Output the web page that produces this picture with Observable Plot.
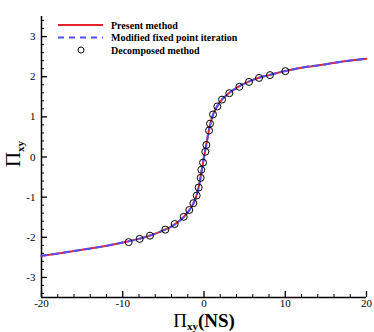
<!DOCTYPE html>
<html><head><meta charset="utf-8">
<script src="https://cdn.jsdelivr.net/npm/d3@7"></script>
<script src="https://cdn.jsdelivr.net/npm/@observablehq/plot@0.6"></script>
<style>body{margin:0;background:#fff}</style>
</head><body><div id="chart"></div>
<script>
// Present method / modified fixed point iteration curve
const curveX = [-20, -17.5, -15, -12.5, -10, -8, -6, -4, -3, -2, -1.5, -1, -0.6, -0.3, 0, 0.3, 0.6, 1, 1.5, 2, 3, 4, 6, 8, 10, 12.5, 15, 17.5, 20];
const curveY = [-2.46, -2.39, -2.31, -2.23, -2.13, -2.04, -1.91, -1.73, -1.59, -1.38, -1.23, -1.01, -0.70, -0.35, 0, 0.33, 0.66, 0.99, 1.22, 1.38, 1.58, 1.72, 1.92, 2.04, 2.14, 2.24, 2.31, 2.39, 2.45];
// Decomposed method points
const pointX = [-9.27, -7.92, -6.65, -4.76, -3.61, -2.50, -1.81, -1.31, -0.90, -0.66, -0.41, -0.33, -0.12, 0.16, 0.29, 0.62, 0.74, 1.11, 1.64, 2.22, 3.12, 4.35, 5.54, 6.77, 8.12, 10.01];
const pointY = [-2.12, -2.04, -1.96, -1.81, -1.67, -1.49, -1.32, -1.15, -0.96, -0.76, -0.52, -0.32, -0.14, 0.13, 0.30, 0.66, 0.83, 1.06, 1.26, 1.43, 1.59, 1.75, 1.87, 1.97, 2.04, 2.14];
const xTicks = [-20, -10, 0, 10, 20];
const yTicks = [-3, -2, -1, 0, 1, 2, 3];
const xMinorTicks = [-18, -16, -14, -12, -8, -6, -4, -2, 2, 4, 6, 8, 12, 14, 16, 18];
const yMinorTicks = [-3.4, -3.2, -2.8, -2.6, -2.4, -2.2, -1.8, -1.6, -1.4, -1.2, -0.8, -0.6, -0.4, -0.2, 0.2, 0.4, 0.6, 0.8, 1.2, 1.4, 1.6, 1.8, 2.2, 2.4, 2.6, 2.8, 3.2, 3.4];
const legendLabels = ["Present method", "Modified fixed point iteration", "Decomposed method"];

const RED = "#e3262b", BLUE = "#4f4fff";
const curve = curveX.map((x, i) => ({x, y: curveY[i]}));
const points = pointX.map((x, i) => ({x, y: pointY[i]}));

const W = 374, H = 332, mL = 41, mR = 8, mT = 16, mB = 35;
const pw = W - mL - mR, ph = H - mT - mB;

const chart = Plot.plot({
  width: W, height: H,
  marginLeft: mL, marginRight: mR, marginTop: mT, marginBottom: mB,
  x: {domain: [-20, 20], label: null},
  y: {domain: [-3.5, 3.5], label: null},
  style: {fontFamily: "Liberation Serif", fontSize: "11px", color: "#000", background: "#fff"},
  marks: [
    Plot.axisX(xTicks, {tickSize: 0, tickPadding: 2, tickFormat: d => String(d), fontSize: 11}),
    Plot.axisY(yTicks, {tickSize: 0, tickPadding: 6, tickFormat: d => String(d), fontSize: 11}),
    Plot.tickX(xTicks, {x: d => d, insetTop: ph - 6, stroke: "#000", strokeWidth: 1.3}),
    Plot.tickX(xMinorTicks, {x: d => d, insetTop: ph - 3, stroke: "#000", strokeWidth: 1}),
    Plot.tickY(yTicks, {y: d => d, insetRight: pw - 6, stroke: "#000", strokeWidth: 1.3}),
    Plot.tickY(yMinorTicks, {y: d => d, insetRight: pw - 3, stroke: "#000", strokeWidth: 1}),
    Plot.ruleX([-20], {stroke: "#000", strokeWidth: 1.5}),
    Plot.ruleY([-3.5], {stroke: "#000", strokeWidth: 1.5}),
    Plot.line(curve, {x: "x", y: "y", stroke: RED, strokeWidth: 2, curve: "monotone-x"}),
    Plot.line(curve, {x: "x", y: "y", stroke: BLUE, strokeWidth: 2, strokeDasharray: "6,5", curve: "monotone-x"}),
    Plot.dot(points, {x: "x", y: "y", r: 3.5, stroke: "#000", fill: "none", strokeWidth: 1})
  ]
});
document.getElementById("chart").appendChild(chart);

const svg = d3.select(chart);
const ff = "Liberation Serif";
// legend
const lg = svg.append("g").attr("font-family", ff).attr("font-size", 10).attr("font-weight", "bold").attr("text-anchor", "start").attr("fill", "#000");
const rowY = [25, 37.5, 50];
lg.append("line").attr("x1", 58).attr("x2", 103).attr("y1", rowY[0]).attr("y2", rowY[0]).attr("stroke", RED).attr("stroke-width", 2);
lg.append("line").attr("x1", 58).attr("x2", 103).attr("y1", rowY[1]).attr("y2", rowY[1]).attr("stroke", BLUE).attr("stroke-width", 2).attr("stroke-dasharray", "6,5");
lg.append("circle").attr("cx", 81).attr("cy", rowY[2]).attr("r", 3).attr("fill", "none").attr("stroke", "#000").attr("stroke-width", 1);
legendLabels.forEach((t, i) => {
  lg.append("text").attr("x", 111).attr("y", rowY[i]).attr("dy", "0.35em").attr("text-anchor", "start").text(t);
});
// x title
const xt = svg.append("text").attr("x", 204).attr("y", 327).attr("text-anchor", "middle").attr("font-family", ff).attr("fill", "#000");
xt.append("tspan").attr("font-size", 19).text("Π");
xt.append("tspan").attr("font-size", 11).attr("font-weight", "bold").attr("dy", 3).text("xy");
xt.append("tspan").attr("font-size", 19).attr("font-weight", "bold").attr("dy", -3).text("(NS)");
// y title
const yt = svg.append("text").attr("transform", "translate(20,154) rotate(-90)").attr("text-anchor", "middle").attr("font-family", ff).attr("fill", "#000");
yt.append("tspan").attr("font-size", 21).text("Π");
yt.append("tspan").attr("font-size", 11).attr("font-weight", "bold").attr("dy", 4).text("xy");
</script>
</body></html>
